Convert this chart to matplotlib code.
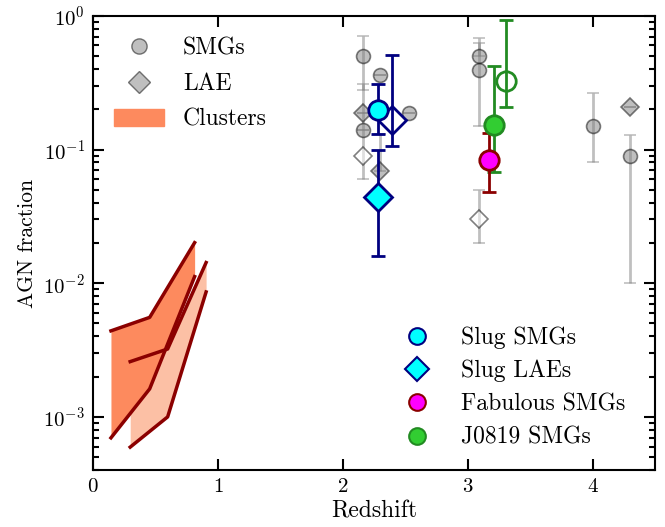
import matplotlib
matplotlib.use("Agg")
import matplotlib.pyplot as plt
from matplotlib.lines import Line2D
from matplotlib.patches import Patch
import numpy as np

plt.rcParams['font.family'] = 'serif'
plt.rcParams['font.serif'] = ['cmr10', 'DejaVu Serif']
plt.rcParams['mathtext.fontset'] = 'cm'
plt.rcParams['axes.formatter.use_mathtext'] = True

# ---- data ----
smg_z = [2.16, 2.16, 2.30, 2.53, 3.09, 3.09, 4.00, 4.30]
smg_f = [0.50, 0.141, 0.363, 0.188, 0.497, 0.395, 0.149, 0.089]
smg_lo = [0.277, 0.141, 0.363, 0.188, 0.497, 0.149, 0.080, 0.010]
smg_hi = [0.71, 0.141, 0.363, 0.188, 0.68, 0.63, 0.266, 0.128]

lae_z = [2.16, 2.30, 4.30]
lae_f = [0.186, 0.069, 0.208]
lae_lo = [0.186, 0.069, 0.208]
lae_hi = [0.186, 0.13, 0.208]

lae_open_z = [2.16, 3.09]
lae_open_f = [0.089, 0.030]
lae_open_lo = [0.060, 0.020]
lae_open_hi = [0.31, 0.0496]

slug_smg = dict(z=2.28, f=0.199, lo=0.131, hi=0.311)
slug_lae = dict(z=2.28, f=0.0444, lo=0.0159, hi=0.0989)
slug_lae_open = dict(z=2.39, f=0.166, lo=0.106, hi=0.51)
fab_smg = dict(z=3.17, f=0.0833, lo=0.0478, hi=0.133)
j0819_smg = dict(z=3.21, f=0.153, lo=0.068, hi=0.418)
j0819_open = dict(z=3.31, f=0.327, lo=0.208, hi=0.93)

c1_z = [0.143, 0.453, 0.813]
c1_hi = [0.0044, 0.00555, 0.0201]
c1_lo = [0.000697, 0.00162, 0.0112]
c2_z = [0.297, 0.597, 0.905]
c2_hi = [0.00259, 0.00322, 0.01427]
c2_lo = [0.000594, 0.00100, 0.0086]

fig = plt.figure(figsize=(6.65, 5.27), dpi=100)
ax = fig.add_axes([0.140, 0.108, 0.845, 0.862])

def yerr(f, lo, hi):
    f = np.atleast_1d(f); lo = np.atleast_1d(lo); hi = np.atleast_1d(hi)
    return np.vstack([f - lo, hi - f])

# clusters
ax.fill_between(c2_z, c2_lo, c2_hi, color='#fcc0a5', lw=0, zorder=1)
ax.fill_between(c1_z, c1_lo, c1_hi, color='#fd8a5e', lw=0, zorder=1.1)
for z, v in [(c1_z, c1_hi), (c1_z, c1_lo), (c2_z, c2_hi), (c2_z, c2_lo)]:
    ax.plot(z, v, color='darkred', lw=2.5, zorder=2)

# gray literature
gkw = dict(ls='none', ecolor='gray', elinewidth=2, capsize=4.5, capthick=2, alpha=0.5)
ax.errorbar(smg_z, smg_f, yerr=yerr(smg_f, smg_lo, smg_hi), fmt='o', ms=10,
            mfc='gray', mec='black', mew=1.2, zorder=3, **gkw)
ax.errorbar(lae_z, lae_f, yerr=yerr(lae_f, lae_lo, lae_hi), fmt='D', ms=9,
            mfc='gray', mec='black', mew=1.2, zorder=3, **gkw)
ax.errorbar(lae_open_z, lae_open_f, yerr=yerr(lae_open_f, lae_open_lo, lae_open_hi), fmt='D', ms=9,
            mfc='white', mec='black', mew=1.2, zorder=3, **gkw)

def pt(d, marker, ms, mfc, mec, ec):
    ax.errorbar([d['z']], [d['f']], yerr=yerr(d['f'], d['lo'], d['hi']), fmt=marker, ms=ms,
                mfc=mfc, mec=mec, mew=2, ecolor=ec, elinewidth=2, capsize=5, capthick=2, zorder=5)

pt(slug_lae_open, 'D', 14, 'none', 'navy', 'navy')
pt(slug_smg, 'o', 14, 'cyan', 'navy', 'navy')
pt(slug_lae, 'D', 14, 'cyan', 'navy', 'navy')
pt(j0819_open, 'o', 14, 'none', 'forestgreen', 'forestgreen')
pt(j0819_smg, 'o', 14, 'limegreen', 'forestgreen', 'forestgreen')
pt(fab_smg, 'o', 14, 'magenta', 'darkred', 'darkred')

ax.set_yscale('log')
ax.set_xlim(0, 4.5)
ax.set_ylim(4e-4, 1)
ax.set_xticks([0, 1, 2, 3, 4])
ax.set_xlabel('Redshift', fontsize=17, labelpad=3)
ax.set_ylabel('AGN fraction', fontsize=15.5, labelpad=4)
ax.tick_params(which='both', direction='in', top=True, right=True, labelsize=15, width=1.5)
ax.tick_params(which='major', length=8, pad=6)
ax.tick_params(which='minor', length=4)
for s in ax.spines.values():
    s.set_linewidth(1.5)

h1 = [Line2D([], [], ls='none', marker='o', ms=11, mfc='gray', mec='black', alpha=0.5),
      Line2D([], [], ls='none', marker='D', ms=11, mfc='gray', mec='black', alpha=0.5),
      Patch(color='#fd8a5e')]
leg1 = ax.legend(h1, ['SMGs', 'LAE', 'Clusters'], loc='upper left', frameon=False,
                 fontsize=17, handlelength=2.1, labelspacing=0.58, bbox_to_anchor=(0.0, 1.0),
                 handletextpad=0.8)
ax.add_artist(leg1)
h2 = [Line2D([], [], ls='none', marker='o', ms=12, mfc='cyan', mec='navy', mew=1.5),
      Line2D([], [], ls='none', marker='D', ms=12, mfc='cyan', mec='navy', mew=1.5),
      Line2D([], [], ls='none', marker='o', ms=12, mfc='magenta', mec='darkred', mew=1.5),
      Line2D([], [], ls='none', marker='o', ms=12, mfc='limegreen', mec='forestgreen', mew=1.5)]
ax.legend(h2, ['Slug SMGs', 'Slug LAEs', 'Fabulous SMGs', 'J0819 SMGs'], loc='lower right',
          frameon=False, fontsize=17, handlelength=1.5, labelspacing=0.47, handletextpad=1.1,
          bbox_to_anchor=(0.985, 0.0))

fig.savefig('out.png', dpi=100)
